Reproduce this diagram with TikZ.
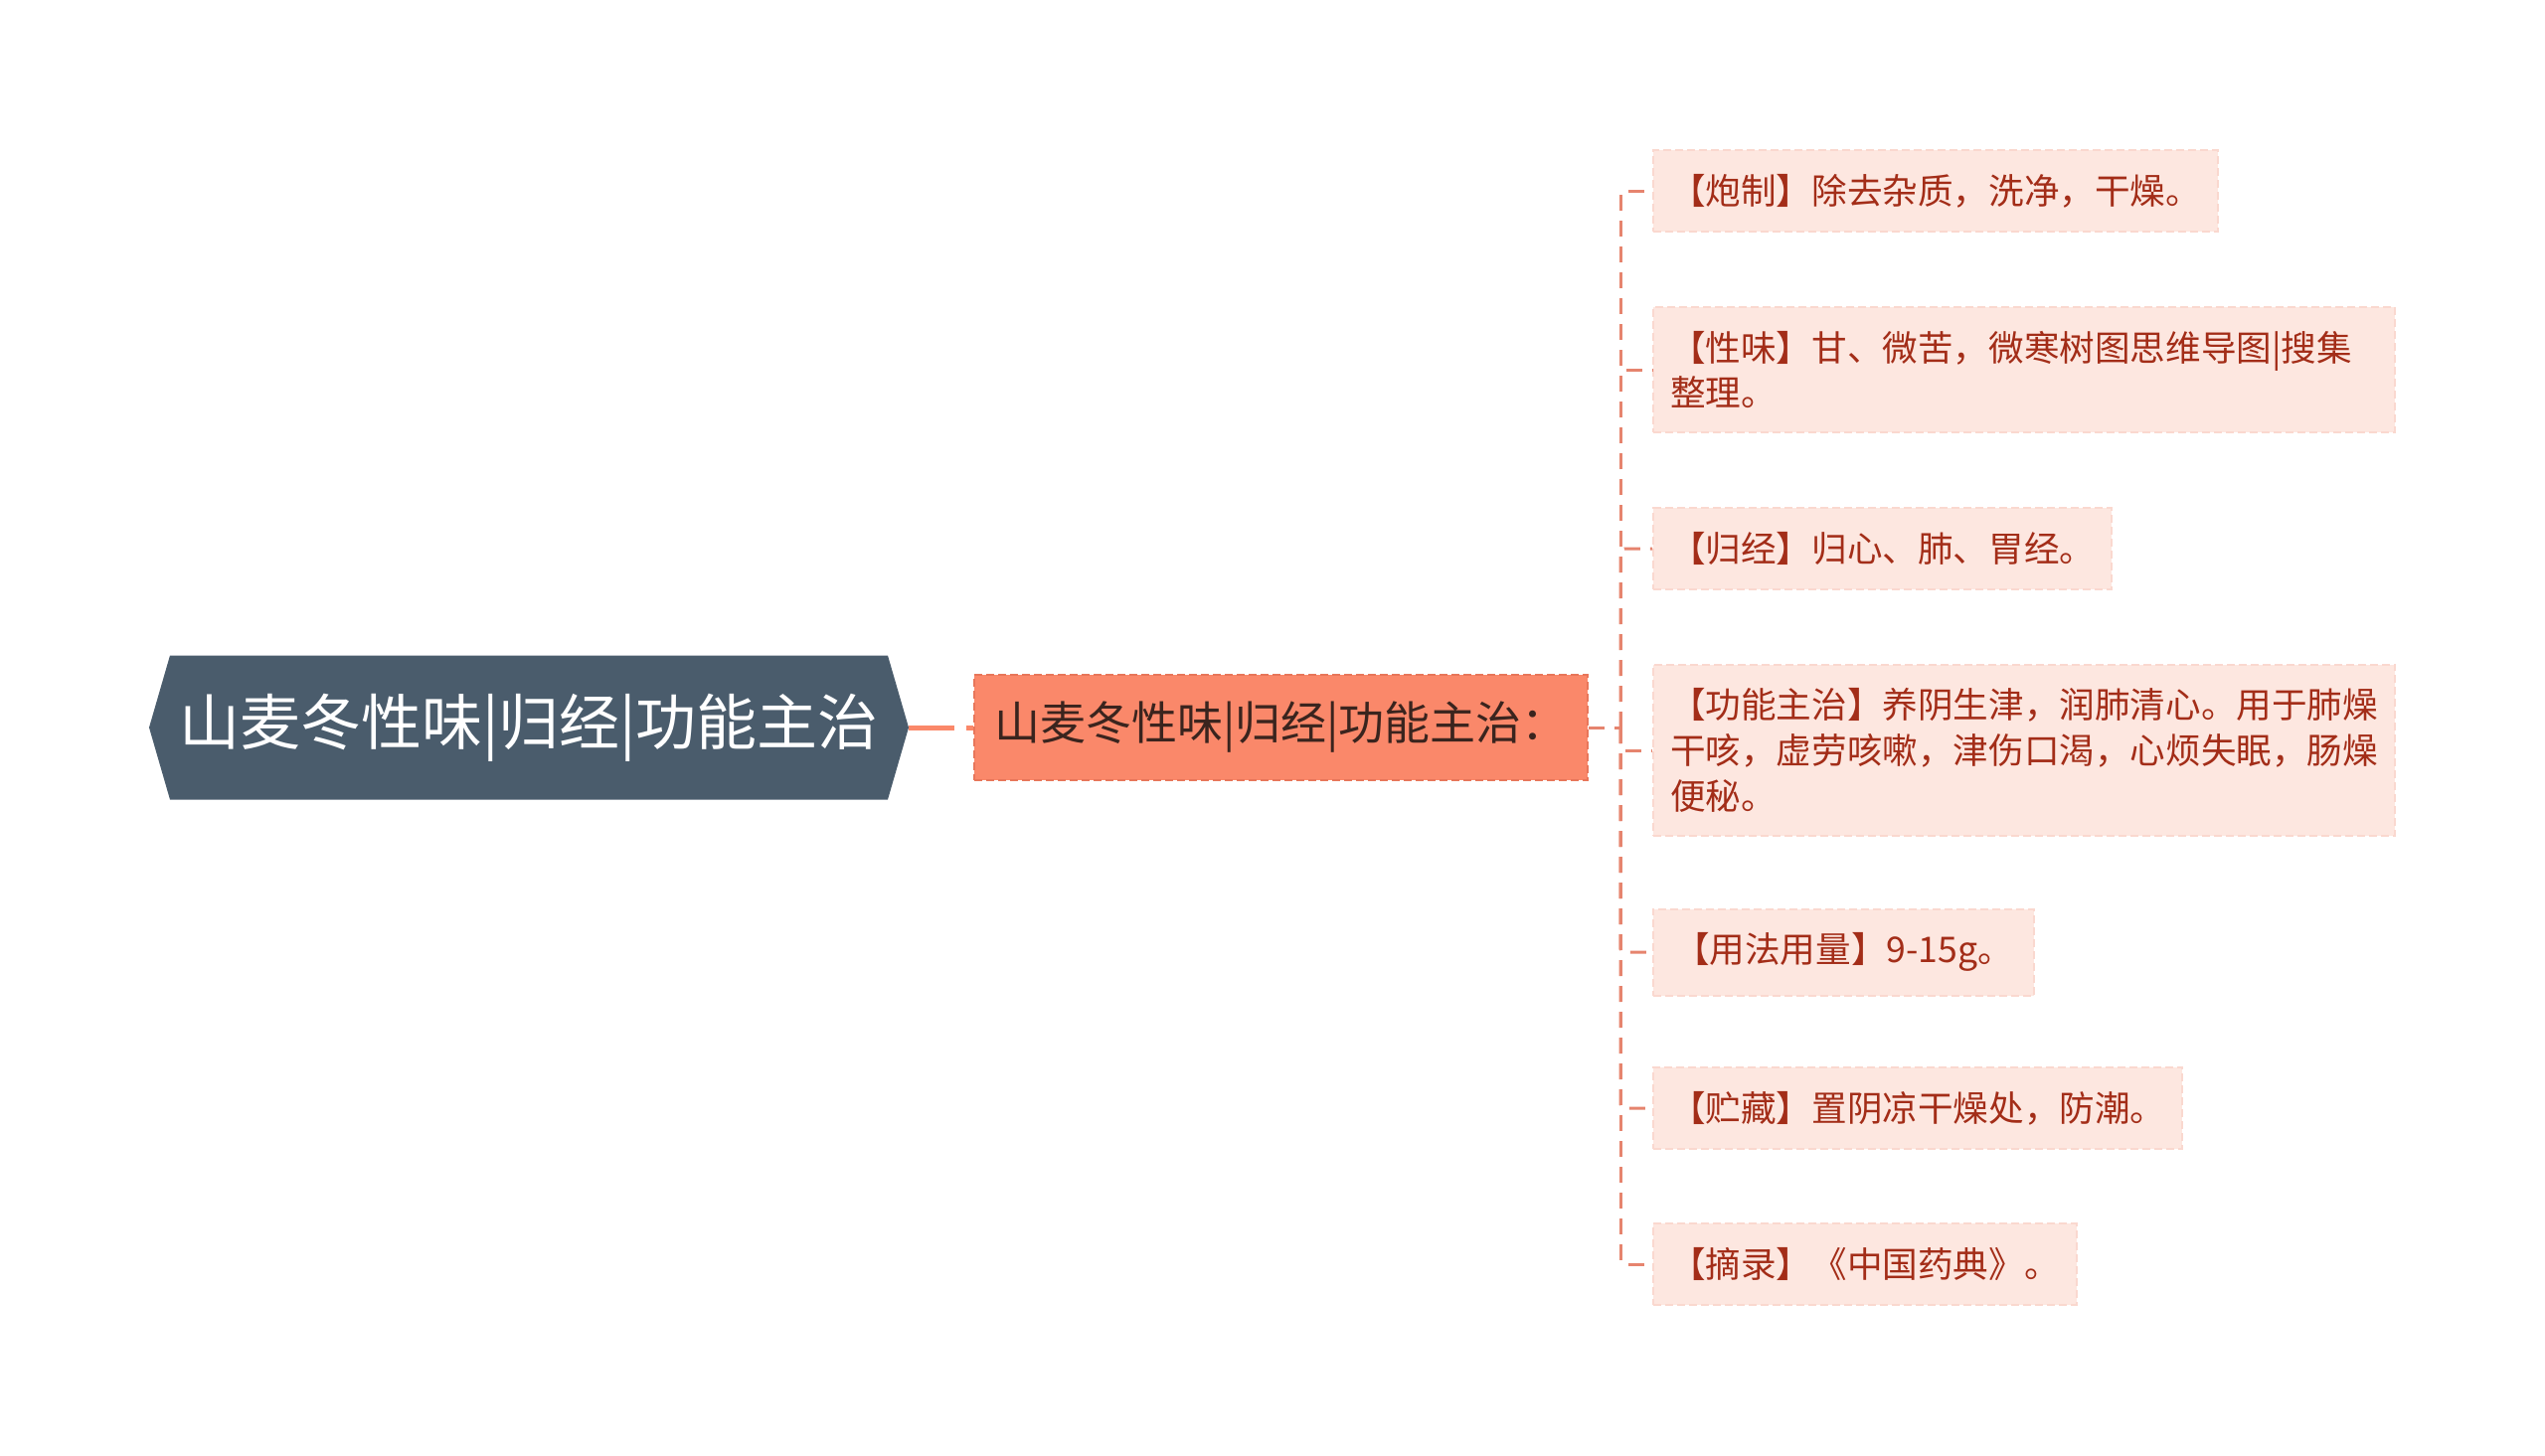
\documentclass[tikz,border=0pt]{standalone}
\usepackage{fontspec}
\setmainfont{Noto Sans CJK SC}
\usepackage{tikz}
\usetikzlibrary{shapes.symbols}

\definecolor{rootfill}{RGB}{74,92,108}
\definecolor{subfill}{RGB}{250,136,106}
\definecolor{subedge}{RGB}{232,118,90}
\definecolor{subtext}{RGB}{58,36,30}
\definecolor{leaffill}{RGB}{253,231,224}
\definecolor{leafedge}{RGB}{250,216,207}
\definecolor{leaftext}{RGB}{163,45,24}
\definecolor{branchline}{RGB}{230,132,110}

\tikzset{
  rootnode/.style={signal, signal to=west and east, signal pointer angle=147.7,
    fill=rootfill, text=white, font=\fontsize{30.5pt}{36pt}\selectfont,
    minimum width=382pt, minimum height=72.5pt, inner sep=0pt},
  subnode/.style={rectangle, fill=subfill, draw=subedge, line width=1pt,
    dash pattern=on 4pt off 2pt, text=subtext, font=\fontsize{23pt}{28pt}\selectfont,
    minimum width=308.5pt, minimum height=53pt, inner sep=0pt},
  leafnode/.style={rectangle, anchor=west, fill=leaffill, draw=leafedge, line width=1pt,
    dash pattern=on 4pt off 2pt, text=leaftext, font=\fontsize{17.8pt}{22.9pt}\selectfont,
    inner xsep=8.5pt, inner ysep=12pt, align=left},
  leafwide/.style={leafnode, text width=356pt},
  rootlink/.style={draw=subfill, line width=2.5pt, dash pattern=on 23pt off 6pt},
  branch/.style={draw=branchline, line width=1.5pt, dash pattern=on 8pt off 5pt, rounded corners=2pt}
}

\begin{document}
\begin{tikzpicture}[x=0.5pt,y=0.5pt,yscale=-1]
        \useasboundingbox (0,0) rectangle (2560,1464);
        \fill[white] (0,0) rectangle (2560,1464);
        %Shape: Hexagon [id:root]
        \node[rootnode] (root) at (532,732) {山麦冬性味|归经|功能主治};
        %Shape: Rectangle [id:sub]
        \node[subnode] (sub) at (1288.5,732) {山麦冬性味|归经|功能主治：};
        %Trunk point
        \coordinate (hub) at (1630,732);

        % Text Node
        \node[leafnode] (paozhi) at (1662,192) {【炮制】除去杂质，洗净，干燥。};
        % Text Node
        \node[leafwide] (xingwei) at (1662,372) {【性味】甘、微苦，微寒树图思维导图|搜集\\整理。};
        % Text Node
        \node[leafnode] (guijing) at (1662,552) {【归经】归心、肺、胃经。};
        % Text Node
        \node[leafwide] (gongneng) at (1662,755) {【功能主治】养阴生津，润肺清心。用于肺燥\\干咳，虚劳咳嗽，津伤口渴，心烦失眠，肠燥\\便秘。};
        % Text Node
        \node[leafnode, minimum width=191.5pt] (yongfa) at (1662,958) {【用法用量】9-15g。};
        % Text Node
        \node[leafnode] (zhucang) at (1662,1115) {【贮藏】置阴凉干燥处，防潮。};
        % Text Node
        \node[leafnode] (zhailu) at (1662,1272) {【摘录】《中国药典》。};

        %Straight Lines
        \draw[rootlink] (root.east) -- (sub.west);
        \draw[branch] (sub.east) -- (hub);
        \foreach \leaf in {paozhi,xingwei,guijing,gongneng,yongfa,zhucang,zhailu}
          \draw[branch] (hub) |- (\leaf.west);
\end{tikzpicture}
\end{document}
